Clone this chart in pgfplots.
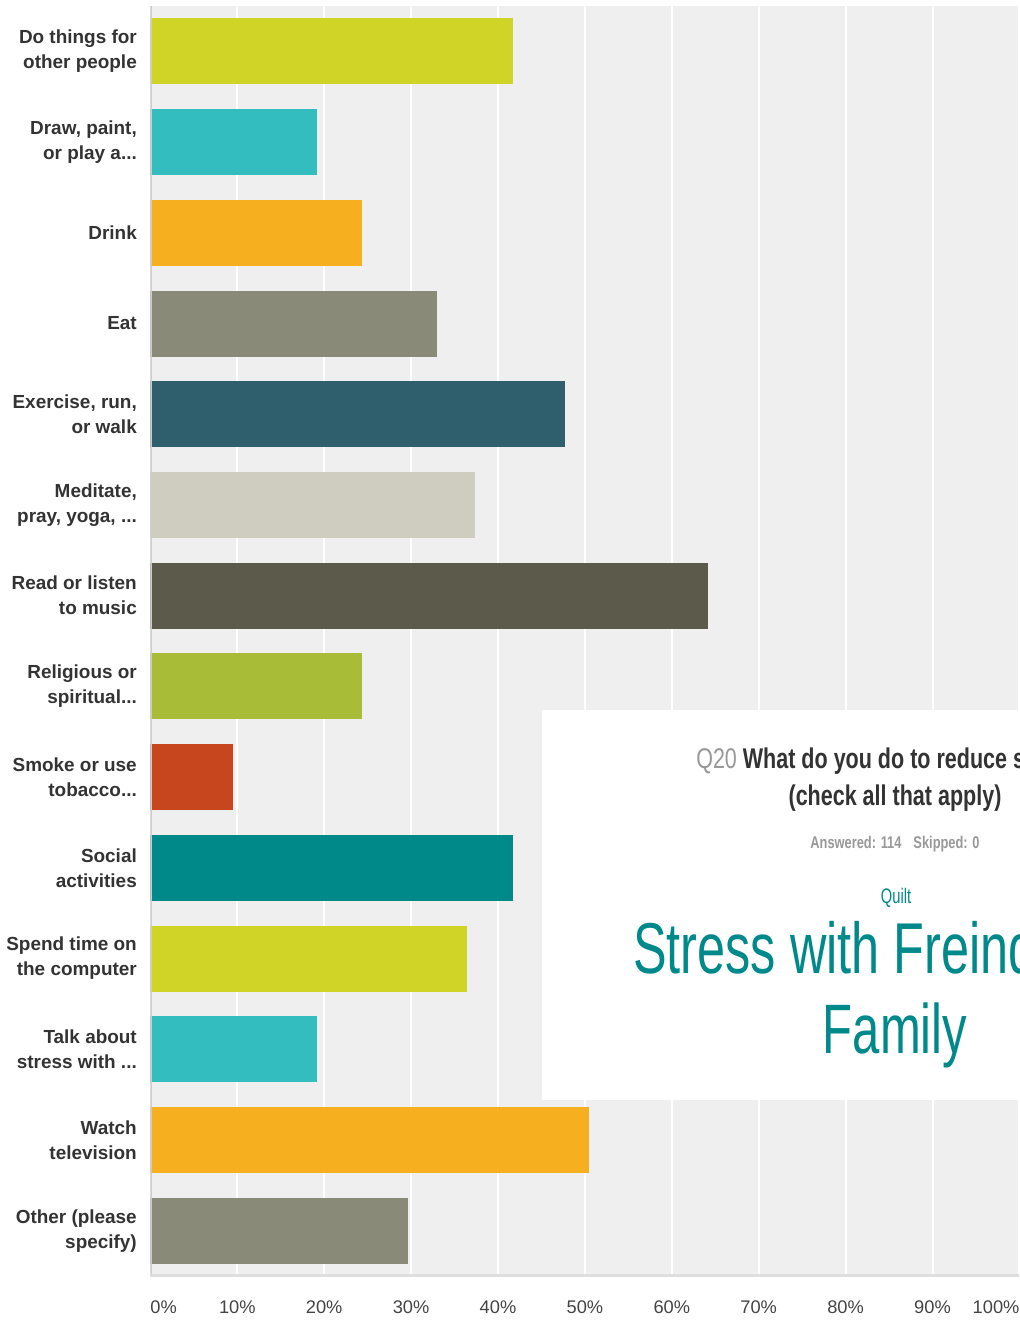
\documentclass[border=0pt]{standalone}
\usepackage{pgfplots}
\pgfplotsset{compat=1.18}
\usepackage{fontspec}
\setmainfont{Liberation Sans}
\newfontfamily\condfont[FakeStretch=0.755]{Liberation Sans}
\newfontfamily\tealfont[FakeStretch=0.7]{Liberation Sans}
\definecolor{c1}{HTML}{CFD427}
\definecolor{c2}{HTML}{33BDBF}
\definecolor{c3}{HTML}{F6AF1F}
\definecolor{c4}{HTML}{898A78}
\definecolor{c5}{HTML}{2F5F6D}
\definecolor{c6}{HTML}{CFCDBF}
\definecolor{c7}{HTML}{5C5B4B}
\definecolor{c8}{HTML}{A8BC38}
\definecolor{c9}{HTML}{C8461E}
\definecolor{c10}{HTML}{008989}
\definecolor{bgc}{HTML}{EFEFEF}
\definecolor{lab}{HTML}{333333}
\definecolor{tick}{HTML}{444444}
\definecolor{qgray}{HTML}{999999}
\definecolor{teal2}{HTML}{00898A}
\newcommand\dts{.{}.{}.}
\begin{document}
\begin{tikzpicture}[x=0.75pt,y=-0.75pt]
\begin{axis}[
  at={(112.8pt,-957pt)}, anchor=south west,
  scale only axis, width=651.75pt, height=952.5pt,
  xmin=0, xmax=100, ymin=-0.5, ymax=13.5,
  xbar, bar width=49.5pt, bar shift=0pt,
  axis line style={draw=none},
  axis background/.style={fill=bgc},
  xmajorgrids, grid style={white, line width=1.5pt},
  major tick length=0pt,
  xtick={0,10,20,30,40,50,60,70,80,90,100},
  xticklabels={\makebox[0pt][l]{0\%},10\%,20\%,30\%,40\%,50\%,60\%,70\%,80\%,90\%,\makebox[0pt][r]{100\%}},
  xticklabel style={font=\fontsize{13.7pt}{16pt}\selectfont, text=tick, anchor=north, inner sep=0pt, yshift=-18pt},
  ytick={0,1,2,3,4,5,6,7,8,9,10,11,12,13},
  yticklabels={{Other (please\\specify)},{Watch\\television},{Talk about\\stress with \dts},{Spend time on\\the computer},{Social\\activities},{Smoke or use\\tobacco\dts},{Religious or\\spiritual\dts},{Read or listen\\to music},{Meditate,\\pray, yoga, \dts},{Exercise, run,\\or walk},{Eat},{Drink},{Draw, paint,\\or play a\dts},{Do things for\\other people}},
  yticklabel style={font=\bfseries\fontsize{14.2pt}{18.75pt}\selectfont, text=lab, align=right, anchor=east, inner sep=0pt, xshift=-10pt},
]
\addplot[fill=c1, draw=none] coordinates {(41.7,13)};
\addplot[fill=c2, draw=none] coordinates {(19.2,12)};
\addplot[fill=c3, draw=none] coordinates {(24.4,11)};
\addplot[fill=c4, draw=none] coordinates {(33.0,10)};
\addplot[fill=c5, draw=none] coordinates {(47.7,9)};
\addplot[fill=c6, draw=none] coordinates {(37.4,8)};
\addplot[fill=c7, draw=none] coordinates {(64.2,7)};
\addplot[fill=c8, draw=none] coordinates {(24.4,6)};
\addplot[fill=c9, draw=none] coordinates {(9.5,5)};
\addplot[fill=c10, draw=none] coordinates {(41.7,4)};
\addplot[fill=c1, draw=none] coordinates {(36.4,3)};
\addplot[fill=c2, draw=none] coordinates {(19.2,2)};
\addplot[fill=c3, draw=none] coordinates {(50.5,1)};
\addplot[fill=c4, draw=none] coordinates {(29.6,0)};
\draw[color=black!20, line width=1.8pt] (rel axis cs:0,0) -- (rel axis cs:0,1);
\draw[color=black!13, line width=3pt] (rel axis cs:0,0) -- (rel axis cs:1,0);
\end{axis}
\fill[white] (542,710) rectangle (1020,1100);
\begin{scope}
\clip (542,710) rectangle (1020,1100);
\node[anchor=base west, inner sep=0pt, font=\condfont\fontsize{21.375pt}{25pt}\selectfont] at (696,768) {\textcolor{qgray}{Q20} \textcolor{lab}{\bfseries What do you do to reduce stress?}};
\node[anchor=base, inner sep=0pt, text=lab, font=\condfont\bfseries\fontsize{21.375pt}{25pt}\selectfont] at (895,805) {(check all that apply)};
\node[anchor=base, inner sep=0pt, text=qgray, font=\condfont\bfseries\fontsize{12.75pt}{15pt}\selectfont] at (895,848) {Answered: 114\hspace{9pt}Skipped: 0};
\node[anchor=base, inner sep=0pt, text=teal2, font=\tealfont\fontsize{15.75pt}{18pt}\selectfont] at (896,903) {Quilt};
\node[anchor=base west, inner sep=0pt, text=teal2, font=\tealfont\fontsize{54pt}{60pt}\selectfont] at (633,973) {Stress with Freinds \&};
\node[anchor=base, inner sep=0pt, text=teal2, font=\tealfont\fontsize{52.5pt}{60pt}\selectfont] at (895,1053) {Family};
\end{scope}
\pgfresetboundingbox
\useasboundingbox (0,0) rectangle (1020,1320);
\end{tikzpicture}
\end{document}
